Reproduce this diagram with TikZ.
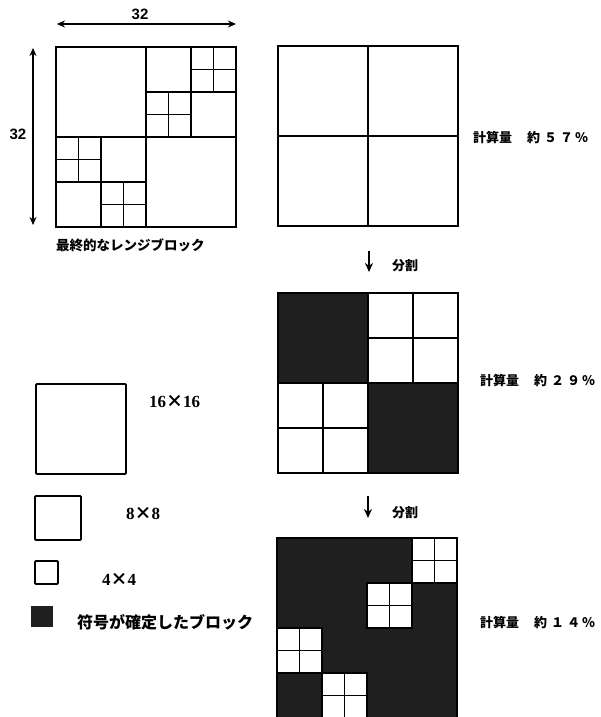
\documentclass[tikz,border=0pt]{standalone}
\usepackage{fontspec}
\setmainfont{Liberation Serif}
\newfontfamily\jp{Noto Sans CJK JP}
\newfontfamily\hv{Liberation Sans}
\usetikzlibrary{arrows.meta}
\tikzset{
  gridline/.style={line width=1.4pt},
  frameline/.style={line width=1.8pt},
  darkfill/.style={fill=black!88},
  dimarrow/.style={line width=1.6pt,{Stealth[length=8pt,width=7pt]}-{Stealth[length=8pt,width=7pt]}},
  downarrow/.style={line width=1.8pt,-{Stealth[length=9pt,width=8pt]}},
  jplabel/.style={font={\jp\bfseries\fontsize{13}{15}\selectfont},inner sep=0pt},
  numlabel/.style={font={\hv\bfseries\fontsize{15}{17}\selectfont},inner sep=0pt},
  legendlabel/.style={font={\bfseries\fontsize{17}{19}\selectfont},inner sep=0pt},
  legendbox/.style={line width=1.8pt,rounded corners=1pt}
}
\begin{document}
\begin{tikzpicture}[x=1pt,y=-1pt]
\useasboundingbox (0,0) rectangle (600,717);
\fill[white] (0,0) rectangle (600,717);

% ---------- left grid: final range blocks ----------
\begin{scope}[shift={(56,47)},x=5.625pt,y=-5.625pt]
  \draw[gridline] (16,0)--(16,32) (0,16)--(32,16);
  \draw[gridline] (24,0)--(24,16) (16,8)--(32,8);
  \draw[gridline] (28,0)--(28,8) (24,4)--(32,4);
  \draw[gridline] (20,8)--(20,16) (16,12)--(24,12);
  \draw[gridline] (8,16)--(8,32) (0,24)--(16,24);
  \draw[gridline] (4,16)--(4,24) (0,20)--(8,20);
  \draw[gridline] (12,24)--(12,32) (8,28)--(16,28);
  \draw[frameline] (0,0) rectangle (32,32);
\end{scope}
\coordinate (dl) at (57,24);
\coordinate (dr) at (236,24);
\draw[dimarrow] (dl) -- (dr);
\node[numlabel] (w32) at (140,14) {32};
\coordinate (dt) at (33,48);
\coordinate (db) at (33,225);
\draw[dimarrow] (dt) -- (db);
\node[numlabel] (h32) at (18,134) {32};
\node[jplabel,anchor=west,font={\jp\bfseries\fontsize{13.5}{15}\selectfont}] (cap) at (56,245) {最終的なレンジブロック};

% ---------- right grid 1 ----------
\begin{scope}[shift={(278,46)},x=5.625pt,y=-5.625pt]
  \draw[gridline] (16,0)--(16,32) (0,16)--(32,16);
  \draw[frameline] (0,0) rectangle (32,32);
\end{scope}
\node[jplabel,anchor=west] (c57) at (473,137) {計算量\hspace{15pt}約\hspace{4pt}５\hspace{3pt}７\hspace{2pt}％};

\coordinate (a1s) at (369,251);
\coordinate (a1e) at (369,272);
\draw[downarrow] (a1s) -- (a1e);
\node[jplabel,anchor=west] (div1) at (392,266) {分割};

% ---------- right grid 2 ----------
\begin{scope}[shift={(278,293)},x=5.625pt,y=-5.625pt]
  \fill[darkfill] (0,0) rectangle (16,16);
  \fill[darkfill] (16,16) rectangle (32,32);
  \draw[gridline] (16,0)--(16,32) (0,16)--(32,16);
  \draw[gridline] (24,0)--(24,16) (16,8)--(32,8);
  \draw[gridline] (8,16)--(8,32) (0,24)--(16,24);
  \draw[frameline] (0,0) rectangle (32,32);
\end{scope}
\node[jplabel,anchor=west] (c29) at (480,380) {計算量\hspace{15pt}約\hspace{4pt}２\hspace{3pt}９\hspace{2pt}％};

\coordinate (a2s) at (368,496);
\coordinate (a2e) at (368,518);
\draw[downarrow] (a2s) -- (a2e);
\node[jplabel,anchor=west] (div2) at (392,513) {分割};

% ---------- right grid 3 ----------
\begin{scope}[shift={(277,538)},x=5.625pt,y=-5.625pt]
  \fill[darkfill] (0,0) rectangle (32,32);
  \foreach \a/\b in {24/0,16/8,0/16,8/24}{
    \fill[white] (\a,\b) rectangle ++(8,8);
    \draw[gridline] (\a,\b) rectangle ++(8,8);
    \draw[gridline] (\a+4,\b) -- ++(0,8) (\a,\b+4) -- ++(8,0);
  }
  \draw[frameline] (0,0) rectangle (32,32);
\end{scope}
\node[jplabel,anchor=west] (c14) at (480,622) {計算量\hspace{15pt}約\hspace{4pt}１\hspace{3pt}４\hspace{2pt}％};

% ---------- legend ----------
\draw[legendbox] (36,384) rectangle (126,474);
\node[legendlabel,anchor=west] (l16) at (149,402) {16{\jp ×}16};
\draw[legendbox] (35,496) rectangle (81,540);
\node[legendlabel,anchor=west] (l8) at (126,513) {8{\jp ×}8};
\draw[legendbox] (35,561) rectangle (58,584);
\node[legendlabel,anchor=west] (l4) at (102,579) {4{\jp ×}4};
\fill[darkfill] (31,606) rectangle (53,627);
\node[jplabel,anchor=west,font={\jp\bfseries\fontsize{16}{18}\selectfont}] (ldark) at (77,622) {符号が確定したブロック};
\end{tikzpicture}
\end{document}
